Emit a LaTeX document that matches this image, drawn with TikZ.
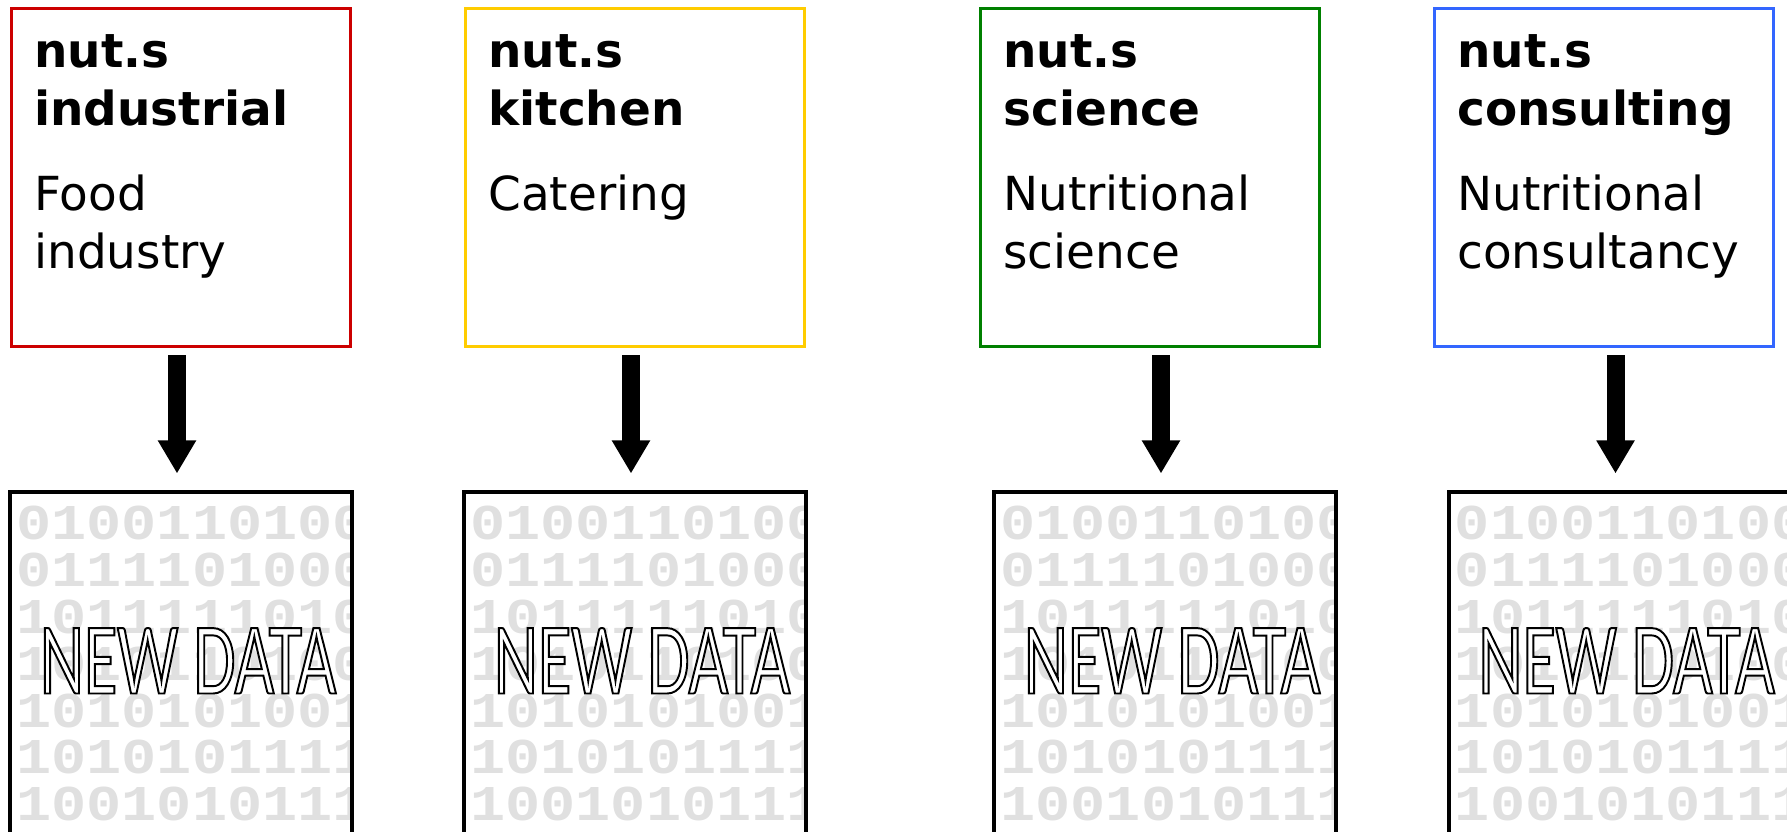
\documentclass[tikz,border=0pt]{standalone}
\usepackage{fontspec}
\setmainfont{DejaVu Sans}
\newfontfamily\bitsfont[FakeStretch=1.17]{Liberation Mono}
\newfontfamily\datafont[FakeStretch=0.67]{Carlito}
\usetikzlibrary{arrows.meta, positioning, calc}
\definecolor{nutred}{RGB}{204, 0, 0}
\definecolor{nutyellow}{RGB}{255, 204, 0}
\definecolor{nutgreen}{RGB}{0, 128, 0}
\definecolor{nutblue}{RGB}{51, 102, 255}
\newcommand{\hollow}[1]{\special{pdf:literal direct 2 Tr 1.1 w 0 G 1 g}#1\special{pdf:literal direct 0 Tr 0 g 0 G}}
\tikzset{
  unit/.style={
    rectangle, draw, line width=0.06cm,
    minimum width=6.78cm, minimum height=6.76cm, inner sep=0pt
  },
  unittext/.style={
    anchor=north west, inner sep=0pt, align=left,
    font=\fontsize{26.7}{33}\selectfont
  },
  databox/.style={
    rectangle, draw=black, fill=white, line width=0.08cm,
    minimum width=6.84cm, minimum height=7.2cm, inner sep=0pt
  },
  bits/.style={
    anchor=north west, inner sep=0pt, align=left, text=black!12,
    font=\bitsfont\bfseries\fontsize{28.5}{26.7}\selectfont
  },
  newdata/.style={
    anchor=base, inner sep=0pt,
    font=\datafont\fontsize{58}{58}\selectfont
  },
  fat/.style={
    -{Triangle[width=0.72cm, length=0.66cm]}, line width=0.36cm,
    shorten <=0.14cm, shorten >=0.34cm
  },
}

\begin{document}
\begin{tikzpicture}

  \useasboundingbox (0,0) rectangle (35.74,-16.64);
  \clip (0,0) rectangle (35.74,-16.64);

  % Units
  \node[unit, draw=nutred] (ind) at (3.62,-3.56) {};
  \node[unit, draw=nutyellow, right=2.24cm of ind] (kit) {};
  \node[unit, draw=nutgreen, right=3.46cm of kit]  (sci) {};
  \node[unit, draw=nutblue, right=2.24cm of sci]   (con) {};

  \node[unittext] (indtxt) at ([shift={(0.48cm,-0.54cm)}]ind.north west)
    {\textbf{nut.s}\\\textbf{industrial}\\[0.54cm]Food\\industry};
  \node[unittext] (kittxt) at ([shift={(0.48cm,-0.54cm)}]kit.north west)
    {\textbf{nut.s}\\\textbf{kitchen}\\[0.54cm]Catering};
  \node[unittext] (scitxt) at ([shift={(0.48cm,-0.54cm)}]sci.north west)
    {\textbf{nut.s}\\\textbf{science}\\[0.54cm]Nutritional\\science};
  \node[unittext] (contxt) at ([shift={(0.48cm,-0.54cm)}]con.north west)
    {\textbf{nut.s}\\\textbf{consulting}\\[0.54cm]Nutritional\\consultancy};

  % Data
  \node[databox, below=2.84cm of ind] (dat1) {};
  \node[databox, below=2.84cm of kit] (dat2) {};
  \node[databox, below=2.84cm of sci, xshift=0.3cm]  (dat3) {};
  \node[databox, below=2.84cm of con, xshift=0.31cm] (dat4) {};

  \foreach \d in {dat1,dat2,dat3,dat4}{
    \begin{scope}
      \clip ([shift={(0.09cm,-0.09cm)}]\d.north west)
        rectangle ([shift={(-0.09cm,0.09cm)}]\d.south east);
      \node[bits] (\d-bits) at ([shift={(0.16cm,-0.3cm)}]\d.north west)
        {0100110100\\0111101000\\1011111010\\1010110100\\1010101001\\1010101111\\1001010111};
    \end{scope}
    \node[newdata] (\d-new) at ([shift={(0.14cm,-4.06cm)}]\d.north) {\hollow{NEW DATA}};
  }

  % Arrows
  \foreach \u/\d in {ind/dat1, kit/dat2, sci/dat3, con/dat4}
    \draw[fat] ($(\u.south -| \d.north)+(-0.08,0)$) -- ($(\d.north)+(-0.08,0)$);

\end{tikzpicture}
\end{document}
